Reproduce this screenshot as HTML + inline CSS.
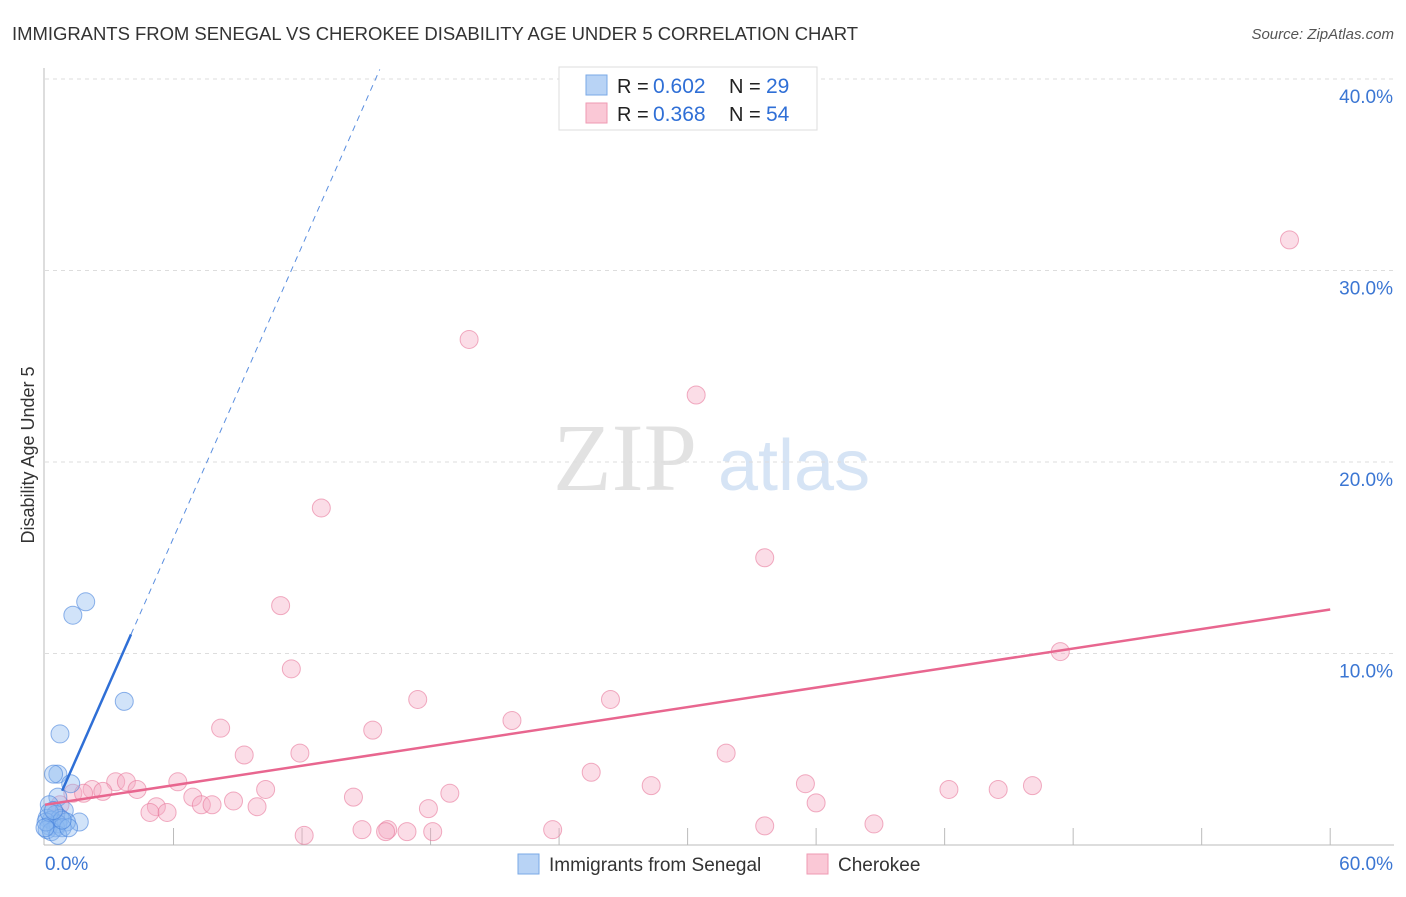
<!DOCTYPE html>
<html><head><meta charset="utf-8"><style>
body{margin:0;background:#fff;font-family:"Liberation Sans",sans-serif;}
</style></head><body>
<svg id="c" width="1406" height="892" font-family="Liberation Sans, sans-serif">
<text x="12" y="40" font-size="18.5" fill="#333" textLength="846">IMMIGRANTS FROM SENEGAL VS CHEROKEE DISABILITY AGE UNDER 5 CORRELATION CHART</text>
<text x="1394" y="39" font-size="15" fill="#555" font-style="italic" text-anchor="end">Source: ZipAtlas.com</text>
<text x="553" y="490" font-size="96" fill="#e2e2e2" style="font-family:'Liberation Serif',serif">ZIP</text>
<text x="718" y="490" font-size="72" fill="#d6e4f5">atlas</text>
<text transform="translate(34,455) rotate(-90)" font-size="18" fill="#333" text-anchor="middle">Disability Age Under 5</text>
<g id="grid"></g><g id="pts"></g><g id="trend"></g>
<g>
<rect x="559" y="67" width="258" height="63" fill="#fff" stroke="#ddd"/>
<rect x="586" y="75" width="21" height="20" fill="#b8d3f5" stroke="#7aa8e6"/>
<rect x="586" y="103" width="21" height="20" fill="#fac8d6" stroke="#ef9ab3"/>
<text x="617" y="93" font-size="20" fill="#222">R =</text><text x="653" y="93" font-size="21" fill="#2f6fd6">0.602</text>
<text x="729" y="93" font-size="20" fill="#222">N =</text><text x="766" y="93" font-size="21" fill="#2f6fd6">29</text>
<text x="617" y="121" font-size="20" fill="#222">R =</text><text x="653" y="121" font-size="21" fill="#2f6fd6">0.368</text>
<text x="729" y="121" font-size="20" fill="#222">N =</text><text x="766" y="121" font-size="21" fill="#2f6fd6">54</text>
</g>
<g>
<rect x="518" y="854" width="21" height="20" fill="#b8d3f5" stroke="#7aa8e6"/>
<text x="549" y="871" font-size="19" fill="#333">Immigrants from Senegal</text>
<rect x="807" y="854" width="21" height="20" fill="#fac8d6" stroke="#ef9ab3"/>
<text x="838" y="871" font-size="19" fill="#333">Cherokee</text>
</g>
</svg>
<script>
const yTicks=[10,20,30,40];
const xTickLabels=["0.0%","60.0%"];
const blueX=[1.9,1.3,3.7,0.7,0.6,0.4,1.2,0.6,1.6,0.2,0.9,0.5,0.1,0.3,0.7,1.0,0.2,0.5,0.6,0.1,0.3,0.8,0.05,0.6,1.1,0.2,0.8,0.0,0.4];
const blueY=[12.7,12.0,7.5,5.8,3.7,3.7,3.2,2.5,1.2,2.1,1.8,1.6,1.4,1.3,1.4,1.2,1.0,0.9,1.1,0.8,0.7,0.9,1.2,0.5,0.9,1.7,1.3,0.9,1.8];
const pinkX=[58.1,19.8,30.4,12.9,33.6,11.0,47.4,11.5,8.2,15.3,17.4,26.4,21.8,9.3,11.9,31.8,25.5,6.2,3.3,3.8,35.5,46.1,28.3,4.3,10.3,2.2,2.7,42.2,44.5,18.9,1.3,1.8,6.9,14.4,8.8,7.3,7.8,9.9,5.2,36.0,17.9,4.9,5.7,0.7,38.7,33.6,23.7,14.8,16.0,18.1,16.9,12.1,15.9,0.5];
const pinkY=[31.6,26.4,23.5,17.6,15.0,12.5,10.1,9.2,6.1,6.0,7.6,7.6,6.5,4.7,4.8,4.8,3.8,3.3,3.3,3.3,3.2,3.1,3.1,2.9,2.9,2.9,2.8,2.9,2.9,2.7,2.7,2.7,2.5,2.5,2.3,2.1,2.1,2.0,2.0,2.2,1.9,1.7,1.7,2.1,1.1,1.0,0.8,0.8,0.8,0.7,0.7,0.5,0.7,1.6];
const blueTrend=[0.8,2.54];
const pinkTrend=[2.1,12.3];
const X=v=>45+v*21.42, Y=v=>845-v*19.15;
const NS="http://www.w3.org/2000/svg";
function mk(t,a,p){const e=document.createElementNS(NS,t);for(const k in a)e.setAttribute(k,a[k]);p.appendChild(e);return e;}
const g=document.getElementById('grid');
for(const t of yTicks){
 const l=mk('line',{x1:45,x2:1394,y1:Y(t),y2:Y(t),stroke:'#ddd','stroke-dasharray':'4,4'},g);
 
 
 const tx=mk('text',{x:1393,y:Y(t)+24,'font-size':19,fill:'#3b76d3','text-anchor':'end'},g);tx.textContent=t.toFixed(1)+'%';
 
 
}
mk('line',{x1:44,x2:44,y1:68,y2:845,stroke:'#bbb'},g);
mk('line',{x1:44,x2:1394,y1:845,y2:845,stroke:'#bbb'},g);
for(let i=1;i<=10;i++){mk('line',{x1:X(i*6),x2:X(i*6),y1:828,y2:845,stroke:'#bbb'},g);}
const t0=mk('text',{x:45,y:870,'font-size':19,fill:'#3b76d3'},g);t0.textContent=xTickLabels[0];


const t1=mk('text',{x:1393,y:870,'font-size':19,fill:'#3b76d3','text-anchor':'end'},g);t1.textContent=xTickLabels[1];


const p=document.getElementById('pts');
pinkX.forEach((x,i)=>{const c=mk('circle',{cx:X(x),cy:Y(pinkY[i]),r:9,fill:'rgba(246,170,195,0.4)',stroke:'rgba(232,120,155,0.6)'},p);
 
 });
blueX.forEach((x,i)=>{const c=mk('circle',{cx:X(x),cy:Y(blueY[i]),r:9,fill:'rgba(140,185,240,0.4)',stroke:'rgba(70,130,220,0.6)'},p);
 
 });
const tr=document.getElementById('trend');
const bx1=0.8, bx2=(11.0-blueTrend[0])/blueTrend[1], bx3=(40.5-blueTrend[0])/blueTrend[1];
const b1=mk('line',{x1:X(bx1),y1:Y(blueTrend[0]+blueTrend[1]*bx1),x2:X(bx2),y2:Y(blueTrend[0]+blueTrend[1]*bx2),stroke:'#2f6fd6','stroke-width':2.5},tr);


const b2=mk('line',{x1:X(bx2),y1:Y(blueTrend[0]+blueTrend[1]*bx2),x2:X(bx3),y2:Y(blueTrend[0]+blueTrend[1]*bx3),stroke:'#5b8fe0','stroke-width':1,'stroke-dasharray':'6,5'},tr);


const pl=mk('line',{x1:X(0),y1:Y(pinkTrend[0]),x2:X(60),y2:Y(pinkTrend[1]),stroke:'#e8668f','stroke-width':2.5},tr);


</script>
</body></html>
